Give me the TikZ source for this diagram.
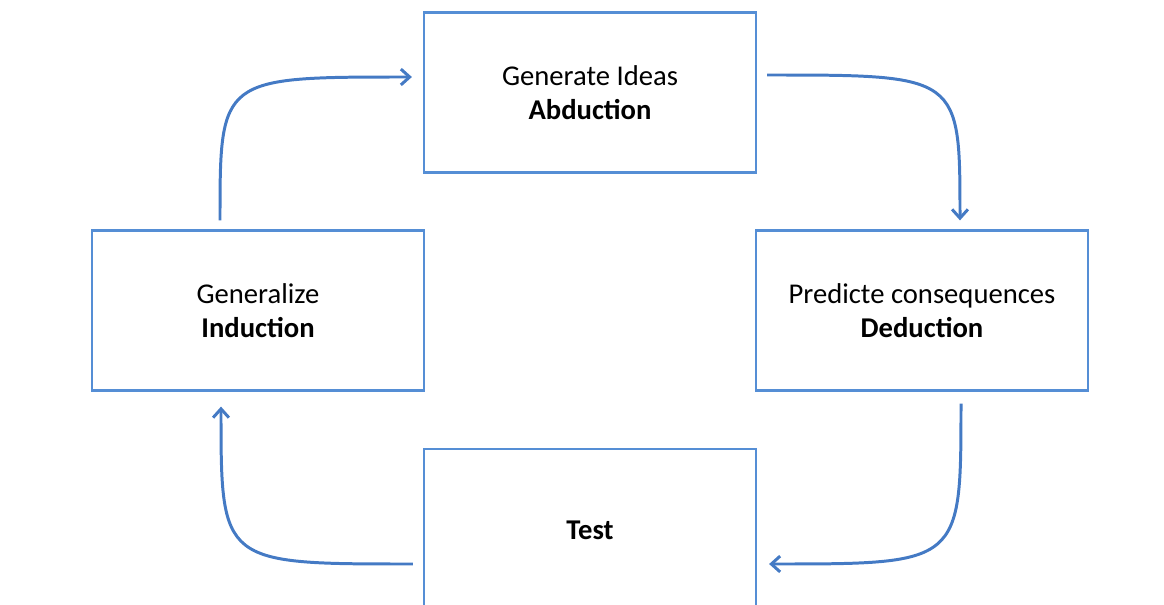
\documentclass[tikz,border=0pt]{standalone}
\usepackage{fontspec}
\setmainfont{Carlito}
\usetikzlibrary{arrows.meta}
\definecolor{boxblue}{RGB}{85,142,213}
\definecolor{arrowblue}{RGB}{68,122,196}

\begin{document}
\begin{tikzpicture}[
    x=0.02cm,y=-0.02cm,
    >={Straight Barb[length=5pt,width=9pt]},
    box/.style={
        draw=boxblue, line width=1.3pt,
        rectangle,
        fill=white,
        minimum width=6.64cm,
        minimum height=3.2cm,
        align=center,
        font=\fontsize{16.3}{19}\selectfont,
        text=black
    },
    flow/.style={
        draw=arrowblue, line width=1.7pt,
        ->
    }
]

\clip (0,0) rectangle (1164,605);

% ====== 四個方框 ======
\node[box] (abd) at (590,92.5) {Generate Ideas\\\textbf{Abduction}};
\node[box] (ind) at (258,310.5) {Generalize\\\textbf{Induction}};
\node[box] (ded) at (922,310.5) {Predicte consequences\\\textbf{Deduction}};
\node[box, minimum height=3.24cm] (tst) at (590,530) {\textbf{Test}};

% ====== 箭頭的端點與轉角 ======
\coordinate (ia) at ([shift={(-38,-9)}]ind.north);
\coordinate (ai) at ([shift={(-11,-15.5)}]abd.west);
\coordinate (ca) at (ia |- ai);

\coordinate (ad) at ([shift={(10,-17.5)}]abd.east);
\coordinate (da) at ([shift={(38,-9)}]ded.north);
\coordinate (cd) at (da |- ad);

\coordinate (dt) at ([shift={(39,12)}]ded.south);
\coordinate (td) at ([shift={(12,34)}]tst.east);
\coordinate (ct) at (dt |- td);

\coordinate (ti) at ([shift={(-10,34)}]tst.west);
\coordinate (it) at ([shift={(-37,15)}]ind.south);
\coordinate (ci) at (it |- ti);

% ====== 循環箭頭 ======
\draw[flow] (ia) .. controls (ca) and (ca) .. (ai);
\draw[flow] (ad) .. controls (cd) and (cd) .. (da);
\draw[flow] (dt) .. controls (ct) and (ct) .. (td);
\draw[flow] (ti) .. controls (ci) and (ci) .. (it);

\end{tikzpicture}
\end{document}
